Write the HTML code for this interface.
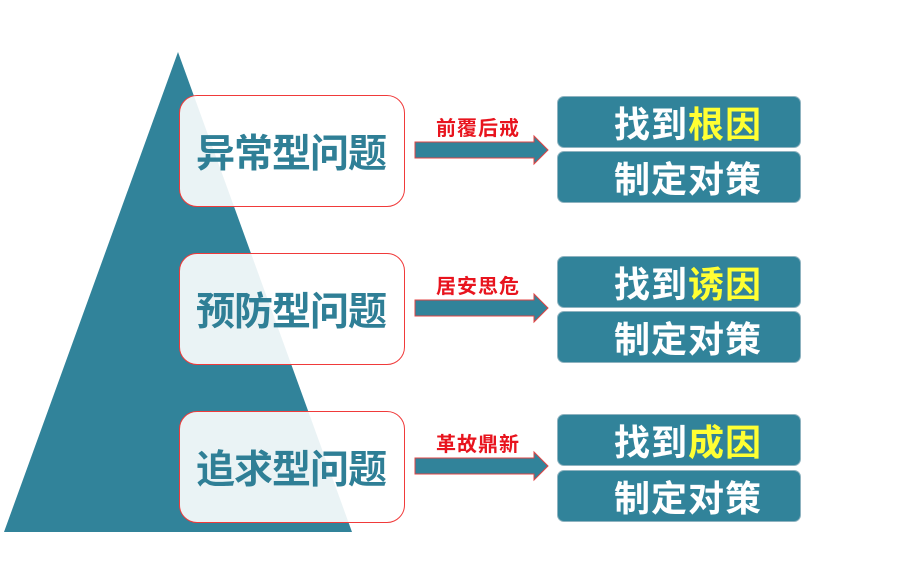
<!DOCTYPE html>
<html><head><meta charset="utf-8"><style>
body{margin:0;width:905px;height:579px;background:#fff;position:relative;overflow:hidden;font-family:"Liberation Sans","Noto Sans CJK SC",sans-serif;}
.lb{position:absolute;left:179px;width:226px;height:112px;border:1.5px solid #f03a3a;border-radius:18px;background:rgba(255,255,255,0.9);box-sizing:border-box;display:flex;align-items:center;justify-content:flex-start;padding-left:16px;color:#2f7f96;font-weight:bold;font-size:39px;letter-spacing:-1px;}
.rb{position:absolute;left:557px;width:244px;height:52px;background:#31839a;border-radius:7px;border:1px solid #8fb3c0;box-sizing:border-box;color:#fff;font-weight:bold;font-size:36px;display:flex;align-items:center;justify-content:flex-start;padding-left:56px;letter-spacing:1px;}
.y{color:#ffff33}
.lab{position:absolute;left:436px;color:#e8141e;font-weight:bold;font-size:20px;letter-spacing:1px;}
</style></head><body>
<svg width="905" height="579" style="position:absolute;left:0;top:0">
<polygon points="178,52 4,532 352,532" fill="#31839a"/>
<g fill="#31839a" stroke="#e04444" stroke-width="1">
<polygon points="415,142 534,142 534,136 548,150 534,164 534,158 415,158"/>
<polygon points="415,300 534,300 534,294 548,308 534,322 534,316 415,316"/>
<polygon points="415,458 534,458 534,452 548,466 534,480 534,474 415,474"/>
</g>
</svg>
<div class="lb" style="top:95px">异常型问题</div>
<div class="lb" style="top:253px">预防型问题</div>
<div class="lb" style="top:411px">追求型问题</div>
<div class="lab" style="top:112px">前覆后戒</div>
<div class="lab" style="top:270px">居安思危</div>
<div class="lab" style="top:428px">革故鼎新</div>
<div class="rb" style="top:96px">找到<span class="y">根因</span></div>
<div class="rb" style="top:151px">制定对策</div>
<div class="rb" style="top:256px">找到<span class="y">诱因</span></div>
<div class="rb" style="top:311px">制定对策</div>
<div class="rb" style="top:414px">找到<span class="y">成因</span></div>
<div class="rb" style="top:470px">制定对策</div>
</body></html>
